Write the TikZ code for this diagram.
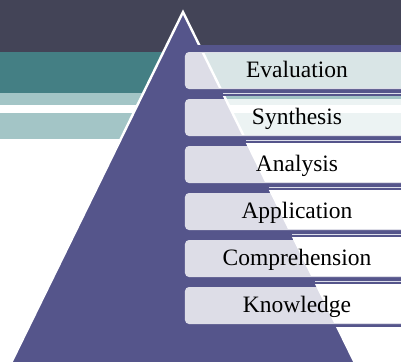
\documentclass[tikz,border=0pt]{standalone}
\usepackage{fontspec}
\setmainfont{Liberation Serif}
\definecolor{darkband}{HTML}{434457}
\definecolor{tealband}{HTML}{447F84}
\definecolor{lightteal}{HTML}{A3C5C6}
\definecolor{pyr}{HTML}{55558B}
\definecolor{gapline}{HTML}{DCDEEA}
\tikzset{
  levelbox/.style={rectangle, rounded corners=4bp, fill=white, fill opacity=0.8,
    text opacity=1, text=black, minimum width=224bp, minimum height=37bp, inner sep=0pt,
    text height=13bp, text depth=0pt,
    font=\fontsize{23.5bp}{27bp}\selectfont},
  strip/.style={fill=pyr},
  gapln/.style={draw=gapline, line width=1.1bp}
}
\begin{document}
\begin{tikzpicture}[x=1bp,y=-1bp]
\useasboundingbox (0,0) rectangle (401,362);
\begin{scope}
\clip (0,0) rectangle (401,362);
\fill[white] (0,0) rectangle (401,362);
\fill[darkband] (0,0) rectangle (401,52);
\fill[tealband] (0,52) rectangle (401,93);
\fill[lightteal] (0,93) rectangle (401,105);
\fill[lightteal] (0,113) rectangle (401,139);
\coordinate (apex) at (183,12);
\coordinate (bl) at (7.6,370);
\coordinate (br) at (358.4,370);
\filldraw[fill=pyr, draw=white, line width=2.4bp, line join=miter] (apex) -- (bl) -- (br) -- cycle;
% purple strips
\fill[strip] (185,45) rectangle (401,53);
\foreach \b in {89,136,183,230,277} {
  \fill[strip] (185,\b-1) rectangle (401,\b+7);
}
\fill[strip] (185,323) rectangle (401,326.5);
% light lines in the gaps, starting at the pyramid's right edge
\foreach \b/\xr in {89/223, 136/246, 183/269, 230/292, 277/315} {
  \coordinate (g\b) at (\xr,\b+4.5);
  \coordinate (e\b) at (401,\b+4.5);
  \draw[gapln] (g\b) -- (e\b);
}
% level boxes
\node[levelbox] (evaluation)    at (297,70.5)  {Evaluation};
\node[levelbox] (synthesis)     at (297,117.5) {Synthesis};
\node[levelbox] (analysis)      at (297,164.5) {Analysis};
\node[levelbox] (application)   at (297,211.5) {Application};
\node[levelbox] (comprehension) at (297,258.5) {Comprehension};
\node[levelbox] (knowledge)     at (297,305.5) {Knowledge};
\end{scope}
\end{tikzpicture}
\end{document}
